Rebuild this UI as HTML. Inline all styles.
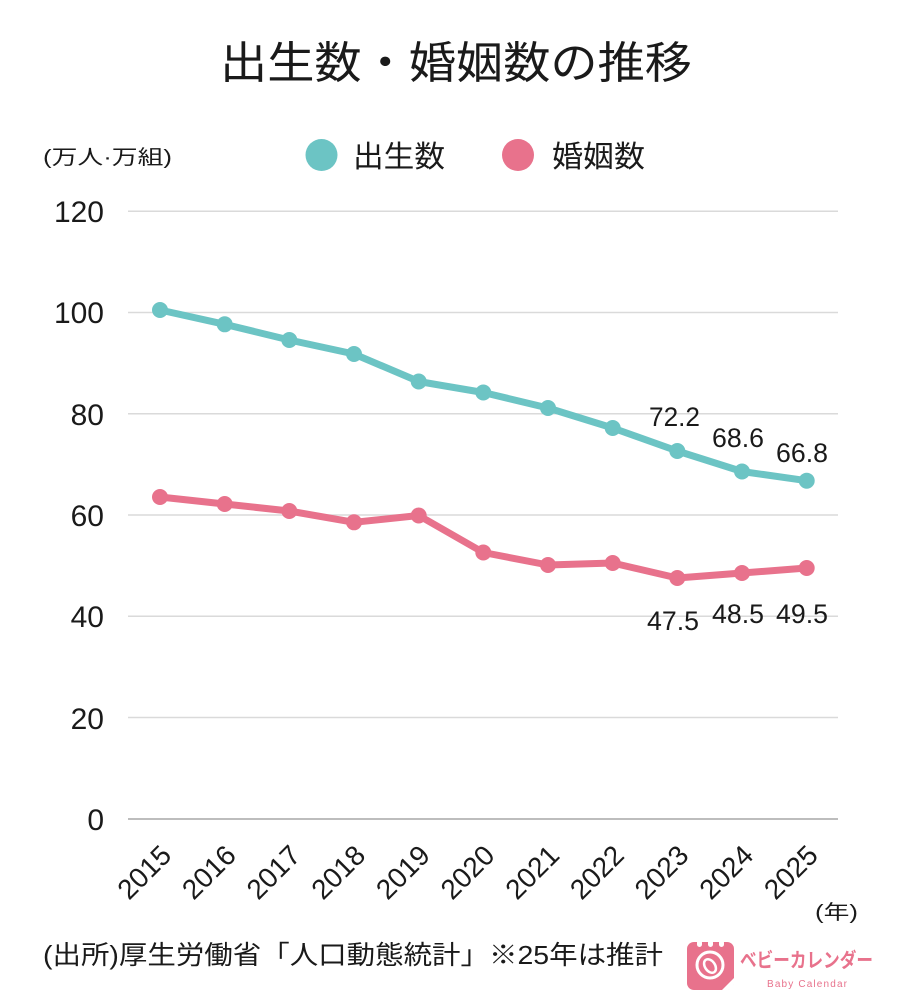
<!DOCTYPE html>
<html><head><meta charset="utf-8"><style>
html,body{margin:0;padding:0;background:#fff;}
svg{display:block;}
text{font-family:"Liberation Sans","Noto Sans CJK JP",sans-serif;fill:#1a1a1a;}
</style></head><body>
<svg width="900" height="1008" viewBox="0 0 900 1008" xmlns="http://www.w3.org/2000/svg">
<rect width="900" height="1008" fill="#fff"/>
<!-- title -->
<text x="220" y="78" font-size="44" textLength="472" lengthAdjust="spacingAndGlyphs">出生数・婚姻数の推移</text>
<!-- unit -->
<text x="43" y="164" font-size="20" textLength="129" lengthAdjust="spacingAndGlyphs">(万人·万組)</text>
<!-- legend -->
<circle cx="321.5" cy="155" r="16" fill="#6CC4C4"/>
<text x="353" y="167" font-size="30" textLength="92" lengthAdjust="spacingAndGlyphs">出生数</text>
<circle cx="518" cy="155" r="16" fill="#E8728C"/>
<text x="552" y="167" font-size="30" textLength="93" lengthAdjust="spacingAndGlyphs">婚姻数</text>
<!-- grid -->
<g stroke="#dadada" stroke-width="1.5">
<line x1="128" y1="211.3" x2="838" y2="211.3"/>
<line x1="128" y1="312.5" x2="838" y2="312.5"/>
<line x1="128" y1="413.8" x2="838" y2="413.8"/>
<line x1="128" y1="515" x2="838" y2="515"/>
<line x1="128" y1="616.3" x2="838" y2="616.3"/>
<line x1="128" y1="717.5" x2="838" y2="717.5"/>
</g>
<line x1="128" y1="819" x2="838" y2="819" stroke="#bdbdbd" stroke-width="2"/>
<!-- y ticks -->
<g font-size="30" text-anchor="end">
<text x="104" y="222">120</text>
<text x="104" y="323">100</text>
<text x="104" y="425">80</text>
<text x="104" y="526">60</text>
<text x="104" y="627">40</text>
<text x="104" y="729">20</text>
<text x="104" y="830">0</text>
</g>
<!-- series birth -->
<polyline fill="none" stroke="#6CC4C4" stroke-width="7" stroke-linejoin="round" points="160,310 224.7,324.3 289.3,340 354,354 418.7,381.5 483.3,392.5 548,408 612.7,428 677.3,451 742,471.5 806.7,480.7"/>
<g fill="#6CC4C4">
<circle cx="160" cy="310" r="8"/><circle cx="224.7" cy="324.3" r="8"/><circle cx="289.3" cy="340" r="8"/><circle cx="354" cy="354" r="8"/><circle cx="418.7" cy="381.5" r="8"/><circle cx="483.3" cy="392.5" r="8"/><circle cx="548" cy="408" r="8"/><circle cx="612.7" cy="428" r="8"/><circle cx="677.3" cy="451" r="8"/><circle cx="742" cy="471.5" r="8"/><circle cx="806.7" cy="480.7" r="8"/>
</g>
<!-- series marriage -->
<polyline fill="none" stroke="#E8728C" stroke-width="7" stroke-linejoin="round" points="160,497 224.7,504 289.3,511 354,522.3 418.7,515.5 483.3,552.5 548,565 612.7,563 677.3,578 742,573 806.7,568"/>
<g fill="#E8728C">
<circle cx="160" cy="497" r="8"/><circle cx="224.7" cy="504" r="8"/><circle cx="289.3" cy="511" r="8"/><circle cx="354" cy="522.3" r="8"/><circle cx="418.7" cy="515.5" r="8"/><circle cx="483.3" cy="552.5" r="8"/><circle cx="548" cy="565" r="8"/><circle cx="612.7" cy="563" r="8"/><circle cx="677.3" cy="578" r="8"/><circle cx="742" cy="573" r="8"/><circle cx="806.7" cy="568" r="8"/>
</g>
<!-- data labels -->
<g font-size="27">
<text x="649" y="426" textLength="51" lengthAdjust="spacingAndGlyphs">72.2</text>
<text x="712" y="447" textLength="52" lengthAdjust="spacingAndGlyphs">68.6</text>
<text x="776" y="462" textLength="52" lengthAdjust="spacingAndGlyphs">66.8</text>
<text x="647" y="630" textLength="52" lengthAdjust="spacingAndGlyphs">47.5</text>
<text x="712" y="623" textLength="52" lengthAdjust="spacingAndGlyphs">48.5</text>
<text x="776" y="623" textLength="52" lengthAdjust="spacingAndGlyphs">49.5</text>
</g>
<!-- x labels -->
<g font-size="28" text-anchor="end">
<text transform="translate(173,857) rotate(-45)">2015</text>
<text transform="translate(237.7,857) rotate(-45)">2016</text>
<text transform="translate(302.3,857) rotate(-45)">2017</text>
<text transform="translate(367,857) rotate(-45)">2018</text>
<text transform="translate(431.7,857) rotate(-45)">2019</text>
<text transform="translate(496.3,857) rotate(-45)">2020</text>
<text transform="translate(561,857) rotate(-45)">2021</text>
<text transform="translate(625.7,857) rotate(-45)">2022</text>
<text transform="translate(690.3,857) rotate(-45)">2023</text>
<text transform="translate(755,857) rotate(-45)">2024</text>
<text transform="translate(819.7,857) rotate(-45)">2025</text>
</g>
<text x="815" y="919" font-size="20" textLength="43" lengthAdjust="spacingAndGlyphs">(年)</text>
<!-- footer -->
<text x="43" y="964" font-size="26" textLength="620" lengthAdjust="spacingAndGlyphs">(出所)厚生労働省「人口動態統計」※25年は推計</text>
<!-- logo -->
<rect x="687" y="942" width="47" height="48" rx="7" fill="#E8728C"/>
<g fill="#fff">
<rect x="697" y="940" width="5" height="7" rx="2.5"/>
<rect x="708" y="940" width="5" height="7" rx="2.5"/>
<rect x="719" y="940" width="5" height="7" rx="2.5"/>
</g>
<circle cx="710" cy="965" r="13" fill="none" stroke="#fff" stroke-width="3"/>
<ellipse cx="710" cy="966" rx="5" ry="7.5" fill="none" stroke="#fff" stroke-width="2.5" transform="rotate(-35 710 966)"/>
<path d="M722 990 L734 978 L734 984 Q734 990 728 990 Z" fill="#fff"/>
<text x="740" y="967" font-size="20" font-weight="bold" style="fill:#E8728C" textLength="133" lengthAdjust="spacingAndGlyphs">ベビーカレンダー</text>
<text x="767" y="987" font-size="10" style="fill:#E8728C" textLength="80" lengthAdjust="spacing">Baby Calendar</text>
</svg>
</body></html>
